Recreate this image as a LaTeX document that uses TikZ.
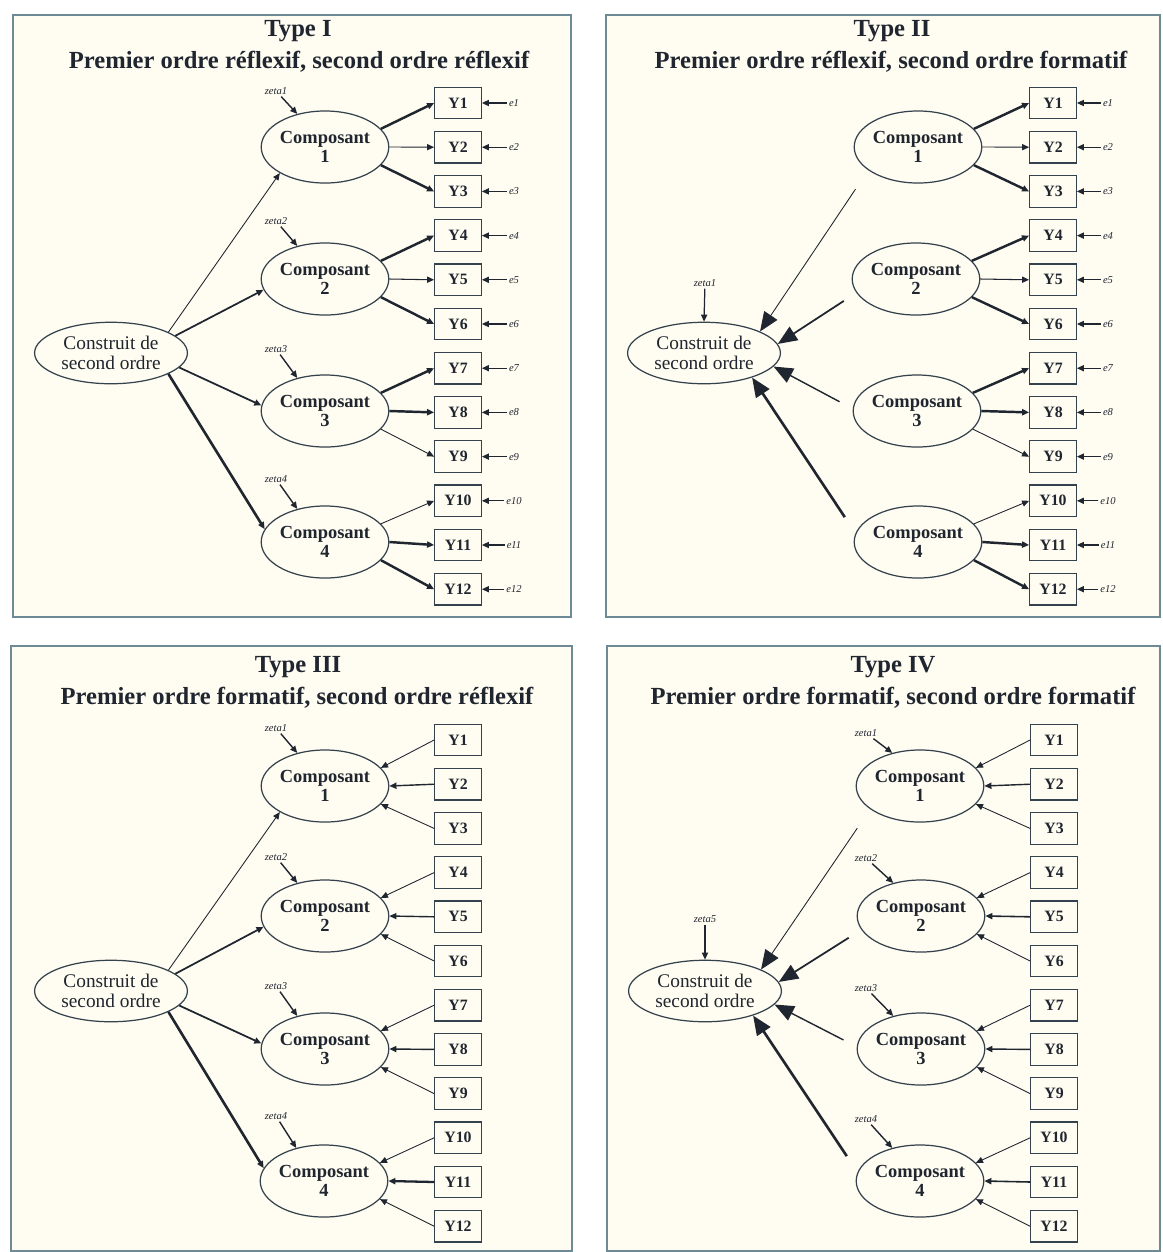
\documentclass[tikz,border=0pt]{standalone}
\usepackage{fontspec}
\setmainfont{Liberation Serif}
\usepackage{tikz}
\usetikzlibrary{arrows.meta,positioning,shapes.geometric}
\usepackage{xcolor}
\definecolor{paper}{RGB}{255,252,241}
\definecolor{framecol}{RGB}{110,138,148}
\definecolor{ink}{RGB}{32,38,48}
\definecolor{edge}{RGB}{52,66,78}

\begin{document}
\begin{tikzpicture}[x=0.02cm,y=-0.02cm,
  panel/.style={draw=framecol,line width=0.9pt,fill=paper},
  ttl/.style={font=\fontsize{14}{16}\selectfont\bfseries,text=ink,inner sep=0pt},
  comp/.style={draw=edge,line width=0.7pt,ellipse,inner sep=0pt,minimum width=70pt,minimum height=41pt,
               align=center,font=\fontsize{10.5}{11}\selectfont\bfseries,text=ink},
  cons/.style={draw=edge,line width=0.7pt,ellipse,inner sep=0pt,minimum width=87pt,minimum height=35pt,
               align=center,font=\fontsize{11}{11}\selectfont,text=ink},
  ind/.style={draw=edge,line width=0.7pt,rectangle,minimum width=26.5pt,minimum height=18pt,inner sep=1pt,
              font=\fontsize{9}{9}\selectfont\bfseries,text=ink},
  lbl/.style={font=\fontsize{6}{6}\selectfont\itshape,text=ink,inner sep=1pt},
  arr/.style={draw=ink,-{Triangle[length=4pt,width=3.5pt]}},
  bigarr/.style={draw=ink,-{Triangle[length=11pt,width=9pt]}}
]
\useasboundingbox[fill=white] (0,0) rectangle (1163,1252);

% Panel frames
\draw[panel] (13,15) rectangle (571,617);
\draw[panel] (606,15) rectangle (1160,617);
\draw[panel] (11,646) rectangle (572,1251);
\draw[panel] (607,646) rectangle (1160,1251);

% ---------------- Type I ----------------
\node[ttl] (t1-title) at (298,31) {Type I};
\node[ttl] (t1-sub) at (299,62) {Premier ordre réflexif, second ordre réflexif};

\node[cons] (t1-cons) at (111,353) {Construit de\\second ordre};
\node[comp] (t1-c1) at (325,147) {Composant\\1};
\node[comp] (t1-c2) at (325,279) {Composant\\2};
\node[comp] (t1-c3) at (325,411) {Composant\\3};
\node[comp] (t1-c4) at (325,542) {Composant\\4};

% Indicators and errors
\foreach \i in {1,...,12}{
  \node[ind] (t1-y\i) at (458,{103+44.2*(\i-1)}) {Y\i};
  \node[lbl] (t1-e\i) at (514,{103+44.2*(\i-1)}) {e\i};
  \draw[arr,line width=0.7pt] (t1-e\i) -- (t1-y\i);
}

% Disturbances
\foreach \k/\y in {1/91,2/221,3/349,4/479}{
  \node[lbl] (t1-z\k) at (276,\y) {zeta\k};
  \draw[arr,line width=0.8pt] (t1-z\k) -- (t1-c\k.130);
}

% Second order -> components
\draw[arr,line width=0.5pt] (t1-cons.20) -- (t1-c1.210);
\draw[arr,line width=1pt] (t1-cons.15) -- (t1-c2.190);
\draw[arr,line width=1pt] (t1-cons.-12) -- (t1-c3.175);
\draw[arr,line width=1.5pt] (t1-cons.-20) -- (t1-c4.168);

% Components -> indicators
\foreach \i/\k/\a/\w in {1/1/18/1.4,2/1/0/0.5,3/1/-18/1.4,4/2/18/1.4,5/2/0/0.6,6/2/-18/1.4,
                         7/3/18/1.4,8/3/0/1.4,9/3/-18/0.5,10/4/18/0.5,11/4/0/1.4,12/4/-18/1.4}
  \draw[arr,line width=\w pt] (t1-c\k.\a) -- (t1-y\i.west);

% ---------------- Type II ----------------
\begin{scope}[shift={(594,0)}]
\node[ttl] (t2-title) at (298,31) {Type II};
\node[ttl] (t2-sub) at (297,62) {Premier ordre réflexif, second ordre formatif};

\node[cons] (t2-cons) at (110,353) {Construit de\\second ordre};
\node[comp] (t2-c1) at (324,147) {Composant\\1};
\node[comp] (t2-c2) at (322,279) {Composant\\2};
\node[comp] (t2-c3) at (323,411) {Composant\\3};
\node[comp] (t2-c4) at (324,542) {Composant\\4};

\foreach \i in {1,...,12}{
  \node[ind] (t2-y\i) at (459,{103+44.2*(\i-1)}) {Y\i};
  \node[lbl] (t2-e\i) at (514,{103+44.2*(\i-1)}) {e\i};
  \draw[arr,line width=0.7pt] (t2-e\i) -- (t2-y\i);
}

\node[lbl] (t2-zc) at (111,283) {zeta1};
\draw[arr,line width=0.7pt] (t2-zc) -- (t2-cons.north);

% Components -> second order (formative)
\draw[bigarr,line width=0.5pt,shorten <=13pt] (t2-c1.205) -- (t2-cons.21);
\draw[bigarr,line width=1pt,shorten <=8.5pt] (t2-c2.193) -- (t2-cons.7);
\draw[bigarr,line width=0.8pt,shorten <=8.5pt] (t2-c3.178) -- (t2-cons.-11);
\draw[bigarr,line width=1.5pt,shorten <=11pt] (t2-c4.172) -- (t2-cons.-27);

\foreach \i/\k/\a/\w in {1/1/18/1.4,2/1/0/0.5,3/1/-18/1.4,4/2/18/1.4,5/2/0/0.6,6/2/-18/1.4,
                         7/3/18/1.4,8/3/0/1.4,9/3/-18/0.5,10/4/18/0.5,11/4/0/1.4,12/4/-18/1.4}
  \draw[arr,line width=\w pt] (t2-c\k.\a) -- (t2-y\i.west);
\end{scope}

% ---------------- Type III ----------------
\begin{scope}[shift={(0,636)}]
\node[ttl] (t3-title) at (298,31) {Type III};
\node[ttl] (t3-sub) at (297,62) {Premier ordre formatif, second ordre réflexif};

\node[cons] (t3-cons) at (111,355) {Construit de\\second ordre};
\node[comp] (t3-c1) at (325,150) {Composant\\1};
\node[comp] (t3-c2) at (325,280) {Composant\\2};
\node[comp] (t3-c3) at (325,413) {Composant\\3};
\node[comp] (t3-c4) at (324,545) {Composant\\4};

\foreach \i in {1,...,12}
  \node[ind] (t3-y\i) at (458,{104+44.2*(\i-1)}) {Y\i};

\foreach \k/\y in {1/92,2/221,3/350,4/480}{
  \node[lbl] (t3-z\k) at (276,\y) {zeta\k};
  \draw[arr,line width=0.8pt] (t3-z\k) -- (t3-c\k.130);
}

\draw[arr,line width=0.5pt] (t3-cons.20) -- (t3-c1.210);
\draw[arr,line width=1pt] (t3-cons.15) -- (t3-c2.190);
\draw[arr,line width=1pt] (t3-cons.-12) -- (t3-c3.175);
\draw[arr,line width=1.5pt] (t3-cons.-20) -- (t3-c4.168);

% Indicators -> components (formative)
\foreach \i/\k/\a/\w in {1/1/18/0.5,2/1/0/0.8,3/1/-18/0.5,4/2/18/0.5,5/2/0/0.8,6/2/-18/0.5,
                         7/3/18/0.5,8/3/0/0.8,9/3/-18/0.5,10/4/18/0.5,11/4/0/1.3,12/4/-18/0.5}
  \draw[arr,line width=\w pt] (t3-y\i.west) -- (t3-c\k.\a);
\end{scope}

% ---------------- Type IV ----------------
\begin{scope}[shift={(594,636)}]
\node[ttl] (t4-title) at (299,31) {Type IV};
\node[ttl] (t4-sub) at (299,62) {Premier ordre formatif, second ordre formatif};

\node[cons] (t4-cons) at (111,355) {Construit de\\second ordre};
\node[comp] (t4-c1) at (326,150) {Composant\\1};
\node[comp] (t4-c2) at (327,280) {Composant\\2};
\node[comp] (t4-c3) at (327,413) {Composant\\3};
\node[comp] (t4-c4) at (326,545) {Composant\\4};

\foreach \i in {1,...,12}
  \node[ind] (t4-y\i) at (460,{104+44.2*(\i-1)}) {Y\i};

\foreach \k/\y in {1/97,2/222,3/352,4/483}{
  \node[lbl] (t4-z\k) at (272,\y) {zeta\k};
  \draw[arr,line width=0.8pt] (t4-z\k) -- (t4-c\k.130);
}

\node[lbl] (t4-zc) at (111,283) {zeta5};
\draw[arr,line width=0.7pt] (t4-zc) -- (t4-cons.north);

\draw[bigarr,line width=0.5pt,shorten <=13pt] (t4-c1.205) -- (t4-cons.21);
\draw[bigarr,line width=1pt,shorten <=8.5pt] (t4-c2.193) -- (t4-cons.7);
\draw[bigarr,line width=0.8pt,shorten <=8.5pt] (t4-c3.178) -- (t4-cons.-11);
\draw[bigarr,line width=1.5pt,shorten <=11pt] (t4-c4.172) -- (t4-cons.-27);

\foreach \i/\k/\a/\w in {1/1/18/0.5,2/1/0/0.8,3/1/-18/0.5,4/2/18/0.5,5/2/0/0.9,6/2/-18/0.5,
                         7/3/18/0.5,8/3/0/0.8,9/3/-18/0.5,10/4/18/0.5,11/4/0/0.9,12/4/-18/0.5}
  \draw[arr,line width=\w pt] (t4-y\i.west) -- (t4-c\k.\a);
\end{scope}

\end{tikzpicture}
\end{document}
